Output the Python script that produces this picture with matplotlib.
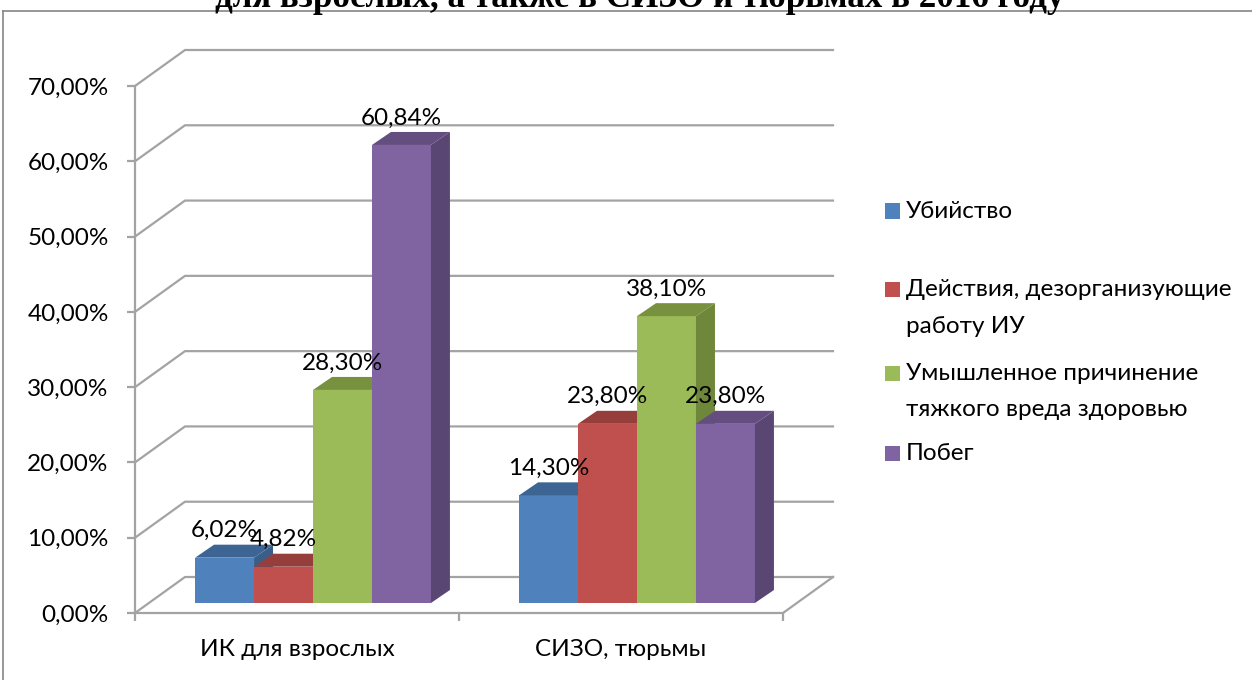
import matplotlib
matplotlib.use("Agg")
import matplotlib.pyplot as plt
from matplotlib.patches import Polygon, Rectangle
from matplotlib.lines import Line2D

# ---------------- data ----------------
categories = ["ИК для взрослых", "СИЗО, тюрьмы"]
series_names = ["Убийство",
                "Действия, дезорганизующие\nработу ИУ",
                "Умышленное причинение\nтяжкого вреда здоровью",
                "Побег"]
values = {
    "Убийство": [6.02, 14.30],
    "Действия": [4.82, 23.80],
    "Умышленное": [28.30, 38.10],
    "Побег": [60.84, 23.80],
}
series_values = [values["Убийство"], values["Действия"], values["Умышленное"], values["Побег"]]
yticks = [0, 10, 20, 30, 40, 50, 60, 70]
ytick_labels = ["0,00%", "10,00%", "20,00%", "30,00%", "40,00%", "50,00%", "60,00%", "70,00%"]
title = "для взрослых, а также в СИЗО и тюрьмах в 2016 году"

# ---------------- style ----------------
front_cols = ["#4F81BD", "#C0504D", "#9BBB59", "#8064A2"]
top_cols = ["#3D6594", "#953E3B", "#78913F", "#644E80"]
side_cols = ["#395E8A", "#8B3937", "#6F873B", "#5A4673"]
GRID = "#A3A3A3"
FONT = ["Lato", "DejaVu Sans"]
plt.rcParams["font.family"] = FONT
FS = 17.5

W, H = 1252, 680
fig = plt.figure(figsize=(W / 100, H / 100), dpi=100)
fig.patch.set_facecolor("white")

AX_L, AX_R, AX_T, AX_B = 135, 783, 86, 613
ax = fig.add_axes([AX_L / W, 1 - AX_B / H, (AX_R - AX_L) / W, (AX_B - AX_T) / H])
ax.set_xlim(-0.5, 1.5)
ax.set_ylim(0, 70)
ax.patch.set_alpha(0)

ppx = (AX_R - AX_L) / 2.0   # pixels per category unit
ppy = (AX_B - AX_T) / 70.0  # pixels per percent


def P(x, y, dxp=0.0, dyp=0.0):
    return (x + dxp / ppx, y + dyp / ppy)


BACK_DX, BACK_DY = 50, 36      # back wall offset in px
BAR_DX, BAR_DY = 16, 10        # bar plane offset
DEP_DX, DEP_DY = 19, 13        # bar depth

# gridlines (back wall + left wall diagonals)
for v in yticks:
    xs, ys = zip(P(-0.5, v), P(-0.5, v, BACK_DX, BACK_DY), P(1.5, v, BACK_DX, BACK_DY))
    ax.add_line(Line2D(xs, ys, color=GRID, lw=1.6, clip_on=False, zorder=1))
# floor right diagonal
xs, ys = zip(P(1.5, 0), P(1.5, 0, BACK_DX, BACK_DY))
ax.add_line(Line2D(xs, ys, color=GRID, lw=1.6, clip_on=False, zorder=1))

# bars
bw = 0.182
n = len(series_values)
for i, vals in enumerate(series_values):
    for j, v in enumerate(vals):
        xl = j - n * bw / 2 + i * bw
        xr = xl + bw
        fx = [P(xl, 0, BAR_DX, BAR_DY), P(xr, 0, BAR_DX, BAR_DY),
              P(xr, v, BAR_DX, BAR_DY), P(xl, v, BAR_DX, BAR_DY)]
        ax.add_patch(Polygon(fx, closed=True, facecolor=front_cols[i], edgecolor="none",
                             clip_on=False, zorder=3))
        tp = [P(xl, v, BAR_DX, BAR_DY), P(xr, v, BAR_DX, BAR_DY),
              P(xr, v, BAR_DX + DEP_DX, BAR_DY + DEP_DY), P(xl, v, BAR_DX + DEP_DX, BAR_DY + DEP_DY)]
        ax.add_patch(Polygon(tp, closed=True, facecolor=top_cols[i], edgecolor="none",
                             clip_on=False, zorder=3))
        sd = [P(xr, 0, BAR_DX, BAR_DY), P(xr, 0, BAR_DX + DEP_DX, BAR_DY + DEP_DY),
              P(xr, v, BAR_DX + DEP_DX, BAR_DY + DEP_DY), P(xr, v, BAR_DX, BAR_DY)]
        ax.add_patch(Polygon(sd, closed=True, facecolor=side_cols[i], edgecolor="none",
                             clip_on=False, zorder=3))
        lx, ly = P((xl + xr) / 2, v, BAR_DX, BAR_DY + 27)
        ax.text(lx, ly, f"{v:.2f}%".replace(".", ","), ha="center", va="center",
                fontsize=FS, color="black", zorder=5, clip_on=False)

# axes styling
for s in ["top", "right"]:
    ax.spines[s].set_visible(False)
for s in ["left", "bottom"]:
    ax.spines[s].set_color(GRID)
    ax.spines[s].set_linewidth(1.6)
    ax.spines[s].set_zorder(2)
ax.set_yticks(yticks)
ax.set_yticklabels(ytick_labels)
ax.tick_params(axis="y", length=6, width=1.6, color=GRID, pad=13, labelsize=FS)
ax.set_xticks([-0.5, 0.5, 1.5], minor=True)
ax.set_xticks(range(len(categories)))
ax.set_xticklabels(categories)
ax.tick_params(axis="x", which="minor", length=6, width=1.6, color=GRID, direction="out")
ax.tick_params(axis="x", which="major", length=0, pad=19, labelsize=FS)

# legend (manual)
leg_y = [211, 289, 373, 453]
line_gap = 37
for i, name in enumerate(series_names):
    y0 = leg_y[i]
    fig.add_artist(Rectangle((885 / W, 1 - (y0 + 7.5) / H), 15 / W, 15 / H,
                             transform=fig.transFigure, facecolor=front_cols[i], edgecolor="none"))
    for k, line in enumerate(name.split("\n")):
        fig.text(906 / W, 1 - (y0 + k * line_gap) / H, line, ha="left", va="center",
                 fontsize=FS, color="black")

# frame
fig.add_artist(Line2D([3 / W, 3 / W], [0, 1 - 11 / H], transform=fig.transFigure,
                      color="#858585", lw=1.2))
fig.add_artist(Line2D([3 / W, 1], [1 - 11 / H, 1 - 11 / H], transform=fig.transFigure,
                      color="#858585", lw=1.2))

# title (cropped at the top edge as in the reference)
fig.text(640 / W, 1 - 7 / H, title, ha="center", va="baseline", fontsize=25.2,
         fontweight="bold", family="Liberation Serif", color="black")

fig.savefig("out.png", dpi=100)
